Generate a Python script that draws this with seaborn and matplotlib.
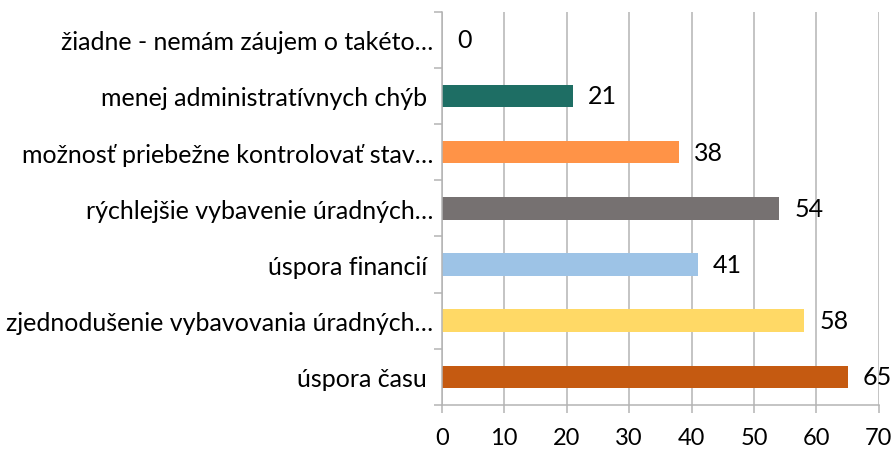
import matplotlib
matplotlib.use("Agg")
import matplotlib.pyplot as plt
import seaborn as sns
import pandas as pd
import numpy as np

categories = [
    "žiadne - nemám záujem o takéto…",
    "menej administratívnych chýb ",
    "možnosť priebežne kontrolovať stav…",
    "rýchlejšie vybavenie úradných…",
    "úspora financií ",
    "zjednodušenie vybavovania úradných…",
    "úspora času ",
]
values = [0, 21, 38, 54, 41, 58, 65]
colors = ["#1E6E64", "#1E6E64", "#FF9347", "#767171", "#9DC3E6", "#FFD966", "#C55A11"]
x_ticks = [0, 10, 20, 30, 40, 50, 60, 70]

df = pd.DataFrame({"kategoria": categories, "pocet": values})

sns.set_theme(style="white")
plt.rcParams["font.family"] = ["Lato", "DejaVu Sans"]

fig = plt.figure(figsize=(8.95, 4.52), dpi=100)
ax = fig.add_axes([0.4935, 0.1018, 0.982 - 0.4935, 0.972 - 0.1018])

sns.barplot(data=df, y="kategoria", x="pocet", hue="kategoria",
            palette=colors, dodge=False, legend=False, width=0.4,
            saturation=1, ax=ax, orient="h", zorder=3, linewidth=0)

ax.set_xlim(0, 70)
ax.set_ylim(len(categories) - 0.5, -0.5)
ax.set_xticks(x_ticks)
ax.set_xticklabels([str(t) for t in x_ticks])
ax.set_xlabel("")
ax.set_ylabel("")

grid_color = "#B4B4B4"
ax.grid(axis="x", color=grid_color, linewidth=1.1, zorder=0)
ax.grid(axis="y", visible=False)

for side in ["top", "right"]:
    ax.spines[side].set_visible(False)
for side in ["left", "bottom"]:
    ax.spines[side].set_color(grid_color)
    ax.spines[side].set_linewidth(1.1)
    ax.spines[side].set_zorder(5)

# category ticks sit on the boundaries between bars
ax.set_yticks(np.arange(-0.5, len(categories), 1.0), minor=True)
ax.tick_params(axis="y", which="major", length=0, pad=6, labelsize=18, labelcolor="#000000")
ax.tick_params(axis="y", which="minor", length=6, width=1.1, color=grid_color, left=True)
ax.tick_params(axis="x", which="major", length=6, width=1.1, color=grid_color, bottom=True,
               pad=10, labelsize=17, labelcolor="#000000")

for i, v in enumerate(values):
    ax.annotate(str(v), xy=(v, i), xytext=(11, 0), textcoords="offset points",
                ha="left", va="center", fontsize=18, color="#000000", zorder=4)

fig.savefig("out.png", dpi=100)
